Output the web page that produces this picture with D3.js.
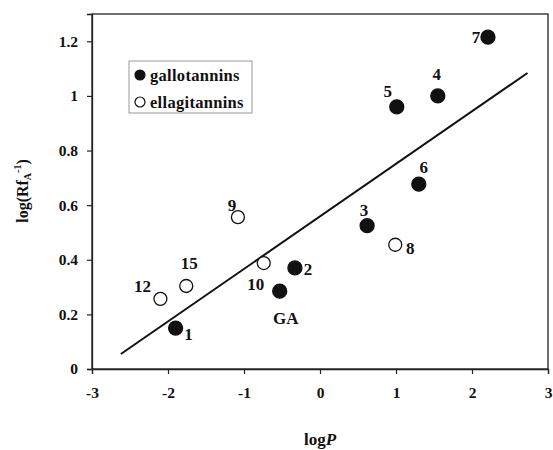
<!DOCTYPE html>
<html>
<head>
<meta charset="utf-8">
<script src="https://cdn.jsdelivr.net/npm/d3@7"></script>
<style>
	body { margin: 0; background: #fff; }
	text { font-family: "Liberation Serif", "DejaVu Serif", serif; font-weight: bold; fill: #111; }
</style>
</head>
<body>
<script>
// data
var galloNames = ['1', 'GA', '2', '3', '5', '6', '4', '7'];
var galloLogP = [-1.9, -0.53, -0.33, 0.62, 1.01, 1.30, 1.55, 2.21];
var galloLogRf = [0.15, 0.285, 0.37, 0.525, 0.96, 0.677, 1.0, 1.215];

var ellagNames = ['12', '15', '9', '10', '8'];
var ellagLogP = [-2.10, -1.76, -1.08, -0.74, 0.99];
var ellagLogRf = [0.257, 0.304, 0.556, 0.388, 0.455];

// regression line end points (logP, logRf)
var fitLogP = [-2.62, 2.73];
var fitLogRf = [0.055, 1.084];

var xTicks = [-3, -2, -1, 0, 1, 2, 3];
var yTicks = [0, 0.2, 0.4, 0.6, 0.8, 1, 1.2];
var seriesNames = ['gallotannins', 'ellagitannins'];

// label placement relative to the marker
var labelOffset = {
	'7': [-12, 0], '4': [-1, -22], '5': [-9, -16], '6': [5, -17], '3': [-3, -16],
	'8': [15, 3], '9': [-6, -12], '10': [-8, 21], '15': [3, -23], '12': [-18, -13],
	'2': [13, 1], 'GA': [6, 27], '1': [13, 6]
};

var width = 553, height = 450;
var margin = {left: 92, right: 5, top: 14, bottom: 81};

var svg = d3.select('body').append('svg')
	.attr('width', width)
	.attr('height', height);

var x = d3.scaleLinear().domain([-3, 3]).range([margin.left, width - margin.right]);
var y = d3.scaleLinear().domain([0, 1.3]).range([height - margin.bottom, margin.top]);

// frame
svg.append('rect')
	.attr('x', x(-3)).attr('y', y(1.3))
	.attr('width', x(3) - x(-3)).attr('height', y(0) - y(1.3))
	.attr('fill', 'none').attr('stroke', '#222').attr('stroke-width', 1.3);

var xAxis = svg.append('g')
	.attr('transform', 'translate(0,' + y(0) + ')')
	.call(d3.axisBottom(x).tickValues(xTicks).tickSize(5).tickPadding(13).tickFormat(function(d){ return String(d); }));
var yAxis = svg.append('g')
	.attr('transform', 'translate(' + x(-3) + ',0)')
	.call(d3.axisLeft(y).tickValues(yTicks).tickSize(5).tickPadding(9).tickFormat(function(d){ return String(+d.toFixed(1)); }));

[xAxis, yAxis].forEach(function(ax){
	ax.select('.domain').attr('stroke', '#222').attr('stroke-width', 1.3);
	ax.selectAll('.tick line').attr('stroke', '#222').attr('stroke-width', 1.2);
	ax.selectAll('.tick text')
		.attr('font-family', '"Liberation Serif", serif')
		.attr('font-weight', 'bold')
		.attr('font-size', 15.5)
		.attr('fill', '#111');
});

// axis titles
var xt = svg.append('text')
	.attr('x', x(0)).attr('y', 445)
	.attr('text-anchor', 'middle').attr('font-size', 17);
xt.append('tspan').text('log');
xt.append('tspan').attr('font-style', 'italic').text('P');

var yt = svg.append('text')
	.attr('transform', 'translate(28,' + 191 + ') rotate(-90)')
	.attr('text-anchor', 'middle').attr('font-size', 16);
yt.append('tspan').text('log(Rf');
yt.append('tspan').attr('font-size', 10).attr('dy', 3).text('A');
yt.append('tspan').attr('font-size', 10).attr('dy', -10).text('-1');
yt.append('tspan').attr('dy', 7).text(')');

// regression line
svg.append('line')
	.attr('x1', x(fitLogP[0])).attr('y1', y(fitLogRf[0]))
	.attr('x2', x(fitLogP[1])).attr('y2', y(fitLogRf[1]))
	.attr('stroke', '#111').attr('stroke-width', 2);

var gallo = galloNames.map(function(n, i){ return {name: n, x: galloLogP[i], y: galloLogRf[i], filled: true}; });
var ellag = ellagNames.map(function(n, i){ return {name: n, x: ellagLogP[i], y: ellagLogRf[i], filled: false}; });
var points = gallo.concat(ellag);

svg.append('g').selectAll('circle')
	.data(points)
	.enter().append('circle')
	.attr('cx', function(d){ return x(d.x); })
	.attr('cy', function(d){ return y(d.y); })
	.attr('r', function(d){ return d.filled ? 7 : 6.5; })
	.attr('fill', function(d){ return d.filled ? '#111' : '#fff'; })
	.attr('stroke', '#111')
	.attr('stroke-width', 1.3);

svg.append('g').selectAll('text')
	.data(points)
	.enter().append('text')
	.attr('x', function(d){ return x(d.x) + labelOffset[d.name][0]; })
	.attr('y', function(d){ return y(d.y) + labelOffset[d.name][1]; })
	.attr('dy', '0.35em')
	.attr('text-anchor', 'middle')
	.attr('font-size', 17)
	.text(function(d){ return d.name; });

// legend
var legend = svg.append('g').attr('transform', 'translate(129,61)');
legend.append('rect')
	.attr('width', 123).attr('height', 52)
	.attr('fill', '#fff').attr('stroke', '#999').attr('stroke-width', 1);
legend.selectAll('g.item')
	.data(seriesNames)
	.enter().append('g')
	.attr('class', 'item')
	.attr('transform', function(d, i){ return 'translate(11,' + (14 + i * 27) + ')'; })
	.each(function(d, i){
		var g = d3.select(this);
		g.append('circle')
			.attr('r', 5)
			.attr('fill', i === 0 ? '#111' : '#fff')
			.attr('stroke', '#111').attr('stroke-width', 1.2);
		g.append('text')
			.attr('x', 10).attr('dy', '0.35em')
			.attr('font-size', 16.5)
			.attr('letter-spacing', 0.3)
			.text(d);
	});
</script>
</body>
</html>
